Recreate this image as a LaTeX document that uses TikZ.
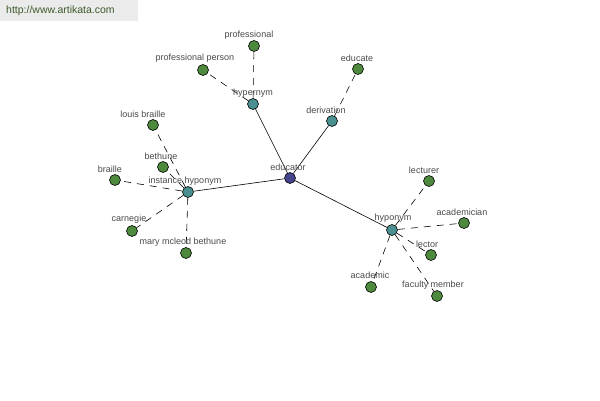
\documentclass[tikz,border=0pt]{standalone}
\usepackage{fontspec}
\setmainfont{Liberation Sans}
\definecolor{leaf}{HTML}{4E8A3E}
\definecolor{mid}{HTML}{4A9090}
\definecolor{root}{HTML}{45458F}
\definecolor{lbl}{HTML}{4A4A4A}
\definecolor{wm}{HTML}{EBEBEB}
\definecolor{wmtext}{HTML}{3D5A2A}
\tikzset{
  dot/.style={circle,draw=black,line width=0.6pt,minimum size=11pt,inner sep=0pt},
  leafdot/.style={dot,fill=leaf},
  middot/.style={dot,fill=mid},
  rootdot/.style={dot,fill=root},
  lab/.style={text=lbl,font=\fontsize{9}{10}\selectfont,inner sep=0pt},
  solidedge/.style={draw=black,line width=0.6pt},
  dashedge/.style={draw=black,line width=0.6pt,dash pattern=on 7pt off 6pt},
}
\begin{document}
\begin{tikzpicture}[x=1pt,y=-1pt]
\useasboundingbox (0,0) rectangle (600,400);
\fill[white] (0,0) rectangle (600,400);
\fill[wm] (0,0) rectangle (138,21);
\node[text=wmtext,font=\fontsize{10.5}{11}\selectfont,inner sep=0pt,anchor=west] (url) at (6,11) {http://www.artikata.com};
% nodes
\node[rootdot] (educator) at (290,178) {};
\node[middot] (hypernym) at (253,104) {};
\node[middot] (derivation) at (332,121) {};
\node[middot] (insthyp) at (188,192) {};
\node[middot] (hyponym) at (392,230) {};
\node[leafdot] (professional) at (254,46) {};
\node[leafdot] (profperson) at (203,70) {};
\node[leafdot] (educate) at (358,69) {};
\node[leafdot] (louis) at (153,125) {};
\node[leafdot] (bethune) at (163,167) {};
\node[leafdot] (braille) at (115,180) {};
\node[leafdot] (carnegie) at (132,231) {};
\node[leafdot] (mary) at (186,253) {};
\node[leafdot] (lecturer) at (429,181) {};
\node[leafdot] (academician) at (464,223) {};
\node[leafdot] (lector) at (431,255) {};
\node[leafdot] (academic) at (371,287) {};
\node[leafdot] (faculty) at (437,296) {};
% edges
\draw[solidedge] (educator) -- (hypernym);
\draw[solidedge] (educator) -- (derivation);
\draw[solidedge] (educator) -- (insthyp);
\draw[solidedge] (educator) -- (hyponym);
\draw[dashedge] (hypernym) -- (professional);
\draw[dashedge] (hypernym) -- (profperson);
\draw[dashedge] (derivation) -- (educate);
\draw[dashedge] (insthyp) -- (louis);
\draw[dashedge] (insthyp) -- (bethune);
\draw[dashedge] (insthyp) -- (braille);
\draw[dashedge] (insthyp) -- (carnegie);
\draw[dashedge] (insthyp) -- (mary);
\draw[dashedge] (hyponym) -- (lecturer);
\draw[dashedge] (hyponym) -- (academician);
\draw[dashedge] (hyponym) -- (lector);
\draw[dashedge] (hyponym) -- (academic);
\draw[dashedge] (hyponym) -- (faculty);
% labels
\node[lab] (l-educator) at (288,167) {educator};
\node[lab] (l-hypernym) at (253,93) {hypernym};
\node[lab] (l-derivation) at (326,110) {derivation};
\node[lab] (l-insthyp) at (185,181) {instance hyponym};
\node[lab] (l-hyponym) at (393,218) {hyponym};
\node[lab] (l-professional) at (249,35) {professional};
\node[lab] (l-profperson) at (195,58) {professional person};
\node[lab] (l-educate) at (357,58) {educate};
\node[lab] (l-louis) at (143,114) {louis braille};
\node[lab] (l-bethune) at (161,156) {bethune};
\node[lab] (l-braille) at (110,169) {braille};
\node[lab] (l-carnegie) at (129,219) {carnegie};
\node[lab] (l-mary) at (183,242) {mary mcleod bethune};
\node[lab] (l-lecturer) at (424,170) {lecturer};
\node[lab] (l-academician) at (462,212) {academician};
\node[lab] (l-lector) at (427,244) {lector};
\node[lab] (l-academic) at (370,275) {academic};
\node[lab] (l-faculty) at (433,285) {faculty member};
\end{tikzpicture}
\end{document}
